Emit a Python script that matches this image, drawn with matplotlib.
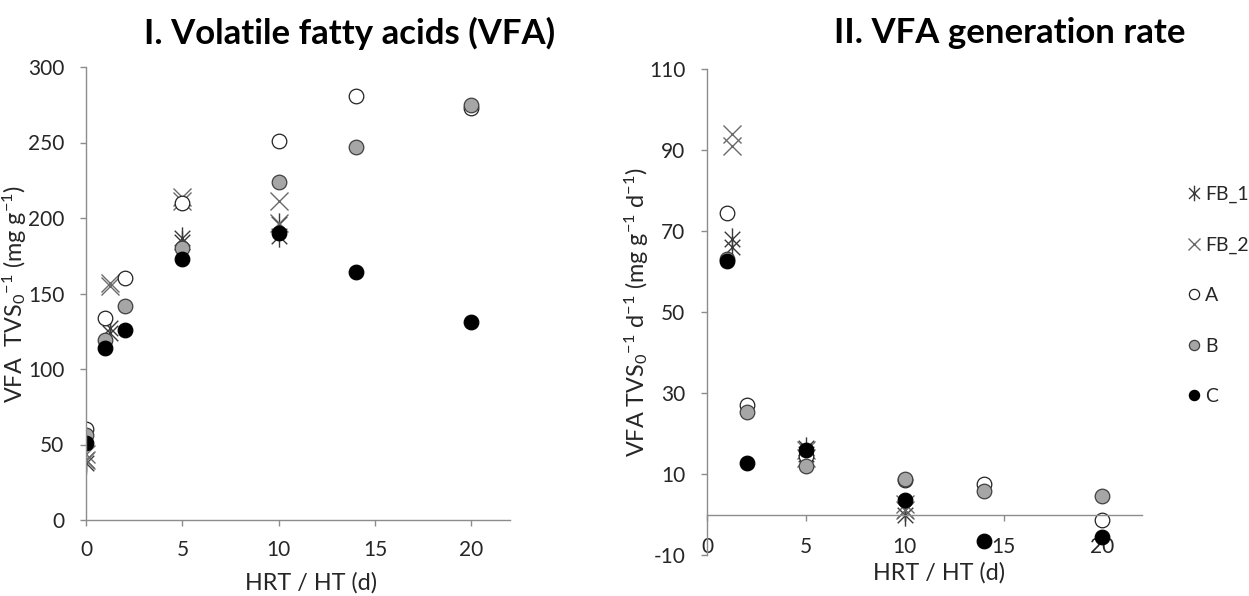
import matplotlib
matplotlib.use("Agg")
import matplotlib.pyplot as plt
from matplotlib.path import Path
from matplotlib.lines import Line2D

# ---------------- data ----------------
hrt_abc = [0, 1, 2, 5, 10, 14, 20]
vfa_A = [60, 134, 160, 210, 251, 281, 273]
vfa_B = [56, 119, 142, 180, 224, 247, 275]
vfa_C = [51, 114, 126, 173, 190, 164, 131]

hrt_fb = [0, 0, 1.25, 1.25, 5, 5, 10, 10]
vfa_FB1 = [40, 38, 127, 124, 187, 184, 188, 196]
vfa_FB2 = [44, 40, 157, 155, 214, 211, 211, 197]

rate_hrt_abc = [1, 2, 5, 10, 14, 20]
rate_A = [74.5, 27, 14.5, 8.4, 7.5, -1.4]
rate_B = [63, 25.2, 12, 8.8, 5.9, 4.6]
rate_C = [62.7, 12.8, 15.9, 3.6, -6.5, -5.6]

rate_hrt_fb = [1.25, 1.25, 5, 5, 10, 10]
rate_FB1 = [68, 66, 16.5, 15, 0, 1]
rate_FB2 = [94, 91, 16, 14, 2.5, 1]

labels = ["FB_1", "FB_2", "A", "B", "C"]
left_yticks = [0, 50, 100, 150, 200, 250, 300]
right_yticks = [-10, 10, 30, 50, 70, 90, 110]
xticks = [0, 5, 10, 15, 20]

# ---------------- style ----------------
plt.rcParams['font.family'] = ['Lato', 'DejaVu Sans']
plt.rcParams['mathtext.fontset'] = 'custom'
plt.rcParams['mathtext.rm'] = 'Lato'
plt.rcParams['mathtext.it'] = 'Lato'
plt.rcParams['mathtext.bf'] = 'Lato:bold'
plt.rcParams['axes.unicode_minus'] = False

AXC = '#8c8c8c'
TXT = '#262626'
TICK_FS = 15
LAB_FS = 16.8

star = Path([(-0.7, -0.7), (0.7, 0.7), (-0.7, 0.7), (0.7, -0.7), (0, -1), (0, 1)],
            [Path.MOVETO, Path.LINETO, Path.MOVETO, Path.LINETO, Path.MOVETO, Path.LINETO])

styles = {
    "FB_1": dict(marker=star, markersize=16, markerfacecolor='none', markeredgecolor='#3a3a3a', markeredgewidth=1.0),
    "FB_2": dict(marker='x', markersize=13, markerfacecolor='none', markeredgecolor='#6a6a6a', markeredgewidth=1.0),
    "A": dict(marker='o', markersize=10.5, markerfacecolor='white', markeredgecolor='#222222', markeredgewidth=0.9),
    "B": dict(marker='o', markersize=10.5, markerfacecolor='#a6a6a6', markeredgecolor='#404040', markeredgewidth=0.9),
    "C": dict(marker='o', markersize=10.5, markerfacecolor='black', markeredgecolor='black', markeredgewidth=0.9),
}

fig = plt.figure(figsize=(12.49, 5.96), dpi=100)

# ---------------- left panel ----------------
ax1 = fig.add_axes([86/1249, 1-520/596, 424/1249, 453/596])
ax1.plot(hrt_fb, vfa_FB1, linestyle='none', **styles["FB_1"])
ax1.plot(hrt_fb, vfa_FB2, linestyle='none', **styles["FB_2"])
ax1.plot(hrt_abc, vfa_A, linestyle='none', **styles["A"])
ax1.plot(hrt_abc, vfa_B, linestyle='none', **styles["B"])
ax1.plot(hrt_abc, vfa_C, linestyle='none', **styles["C"])
ax1.set_xlim(0, 22)
ax1.set_ylim(0, 300)
ax1.set_xticks(xticks)
ax1.set_yticks(left_yticks)
for s in ['top', 'right']:
    ax1.spines[s].set_visible(False)
for s in ['left', 'bottom']:
    ax1.spines[s].set_color(AXC)
    ax1.spines[s].set_linewidth(1.0)
ax1.tick_params(axis='both', colors=AXC, labelcolor=TXT, labelsize=TICK_FS, length=4.5, width=1.0)
ax1.tick_params(axis='x', pad=10)
ax1.tick_params(axis='y', pad=11)
ax1.set_xlabel("HRT / HT (d)", fontsize=LAB_FS, color=TXT)
ax1.xaxis.set_label_coords(225/424, -52/453)
ax1.set_ylabel(r"VFA  TVS$_0$$^{-1}$ (mg g$^{-1}$)", fontsize=LAB_FS, color=TXT)
ax1.yaxis.set_label_coords(-(86-29)/424, 0.5)
fig.text(350/1249, 1-33/596, "I. Volatile fatty acids (VFA)", ha='center', va='center',
         fontsize=25, fontweight='bold', color='black')

# ---------------- right panel ----------------
ax2 = fig.add_axes([707/1249, 1-555/596, 435/1249, 486/596])
ax2.plot(rate_hrt_fb, rate_FB1, linestyle='none', **styles["FB_1"])
ax2.plot(rate_hrt_fb, rate_FB2, linestyle='none', **styles["FB_2"])
ax2.plot(rate_hrt_abc, rate_A, linestyle='none', **styles["A"])
ax2.plot(rate_hrt_abc, rate_B, linestyle='none', **styles["B"])
ax2.plot(rate_hrt_abc, rate_C, linestyle='none', **styles["C"])
ax2.set_xlim(0, 22)
ax2.set_ylim(-10, 110)
ax2.set_xticks(xticks)
ax2.set_yticks(right_yticks)
for s in ['top', 'right']:
    ax2.spines[s].set_visible(False)
ax2.spines['bottom'].set_position(('data', 0))
for s in ['left', 'bottom']:
    ax2.spines[s].set_color(AXC)
    ax2.spines[s].set_linewidth(1.0)
ax2.tick_params(axis='both', colors=AXC, labelcolor=TXT, labelsize=TICK_FS, width=1.0)
ax2.tick_params(axis='y', length=4.5, pad=11)
ax2.tick_params(axis='x', length=4, pad=12.5)
ax2.set_xlabel("HRT / HT (d)", fontsize=LAB_FS, color=TXT)
ax2.xaxis.set_label_coords(232/435, -7/486)
ax2.set_ylabel(r"VFA TVS$_0$$^{-1}$ d$^{-1}$ (mg g$^{-1}$ d$^{-1}$)", fontsize=LAB_FS, color=TXT)
ax2.yaxis.set_label_coords(-(707-651)/435, 0.5)
fig.text(1010/1249, 1-33/596, "II. VFA generation rate", ha='center', va='center',
         fontsize=25, fontweight='bold', color='black')

# ---------------- legend ----------------
leg_handles = []
for lab in labels:
    st = dict(styles[lab])
    st['markersize'] = st['markersize'] * 0.7
    leg_handles.append(Line2D([], [], linestyle='none', **st))
fig.legend(leg_handles, labels, loc='upper left', bbox_to_anchor=(1176/1249, 1-176/596),
           frameon=False, fontsize=14, labelspacing=1.72, handlelength=0.8,
           handletextpad=0.2, borderpad=0, labelcolor=TXT)

fig.savefig("out.png", dpi=100)
